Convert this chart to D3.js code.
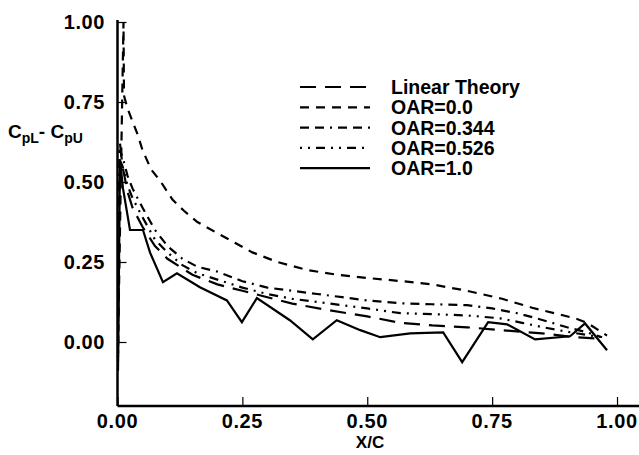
<!DOCTYPE html>
<html>
<head>
<meta charset="utf-8">
<script src="https://cdn.jsdelivr.net/npm/d3@7"></script>
<style>
  body { margin: 0; background: #fff; }
  text { font-family: "Liberation Sans", Arial, sans-serif; font-weight: bold; fill: #000; }
</style>
</head>
<body>
<div id="target"></div>
<script>
// series: [x/c, Cp difference]
const linearTheory = [[0.005,0.62],[0.01,0.55],[0.02,0.47],[0.03,0.42],[0.05,0.36],[0.075,0.3],[0.1,0.26],[0.15,0.21],[0.2,0.18],[0.25,0.16],[0.3,0.14],[0.35,0.12],[0.42,0.1],[0.5,0.08],[0.566,0.06],[0.63,0.052],[0.7,0.046],[0.77,0.037],[0.85,0.027],[0.91,0.016],[0.97,0.01]];
const oar00 = [[0.001,-0.02],[0.012,1.0],[0.013,0.77],[0.02,0.73],[0.03,0.69],[0.04,0.65],[0.05,0.6],[0.067,0.54],[0.087,0.5],[0.11,0.445],[0.133,0.41],[0.16,0.375],[0.2,0.34],[0.235,0.31],[0.27,0.28],[0.32,0.25],[0.38,0.225],[0.44,0.21],[0.5,0.2],[0.57,0.19],[0.63,0.18],[0.7,0.16],[0.77,0.135],[0.83,0.107],[0.88,0.088],[0.92,0.072],[0.94,0.06],[0.97,0.03],[0.98,0.02]];
const oar0344 = [[0.001,-0.05],[0.004,0.6],[0.01,0.58],[0.02,0.52],[0.03,0.48],[0.05,0.42],[0.075,0.35],[0.1,0.3],[0.13,0.26],[0.16,0.235],[0.2,0.22],[0.25,0.19],[0.3,0.17],[0.35,0.16],[0.4,0.15],[0.45,0.14],[0.5,0.13],[0.566,0.121],[0.63,0.118],[0.7,0.115],[0.75,0.105],[0.8,0.09],[0.832,0.077],[0.87,0.06],[0.9,0.046],[0.94,0.03],[0.97,0.015]];
const oar0526 = [[0.001,-0.06],[0.004,0.57],[0.01,0.55],[0.02,0.49],[0.03,0.45],[0.05,0.39],[0.075,0.32],[0.1,0.28],[0.13,0.24],[0.16,0.215],[0.2,0.195],[0.25,0.17],[0.3,0.15],[0.35,0.135],[0.4,0.125],[0.45,0.115],[0.5,0.105],[0.566,0.09],[0.63,0.087],[0.7,0.083],[0.766,0.074],[0.81,0.06],[0.852,0.046],[0.9,0.032],[0.94,0.022],[0.97,0.015]];
const oar10 = [[0.001,-0.09],[0.005,0.57],[0.011,0.48],[0.025,0.35],[0.051,0.35],[0.065,0.28],[0.091,0.187],[0.119,0.215],[0.165,0.171],[0.219,0.13],[0.249,0.062],[0.279,0.137],[0.345,0.068],[0.391,0.008],[0.439,0.068],[0.486,0.037],[0.526,0.015],[0.586,0.027],[0.652,0.03],[0.69,-0.063],[0.742,0.062],[0.78,0.055],[0.836,0.008],[0.906,0.018],[0.936,0.058],[0.98,-0.026]];

const seriesNames = ["Linear Theory", "OAR=0.0", "OAR=0.344", "OAR=0.526", "OAR=1.0"];
const xTicks = [0, 0.25, 0.5, 0.75, 1.0];
const yTicks = [0, 0.25, 0.5, 0.75, 1.0];

const width = 639, height = 455;
const dashes = ["16,9", "9,7", "9,6,9,6,2,6", "2,6,2,6,9,6", null];
const allSeries = [linearTheory, oar00, oar0344, oar0526, oar10];

let svg = d3.select("#target").append("svg")
  .attr("width", width)
  .attr("height", height);

let x = d3.scaleLinear().domain([0, 1.044]).range([117.5, 639]);
let y = d3.scaleLinear().domain([-0.2, 1.0]).range([406, 22]);

// axes, ticks drawn inside the frame
let xAxis = d3.axisTop(x).tickValues(xTicks).tickSize(9).tickFormat("");
let yAxis = d3.axisRight(y).tickValues(yTicks).tickSize(9).tickFormat("");

svg.append("g")
  .attr("transform", `translate(0,${y(-0.2)})`)
  .call(xAxis)
  .call(g => g.select(".domain").attr("stroke-width", 2.5).attr("d", `M${x(0)},0H${width}`))
  .call(g => g.selectAll(".tick line").attr("stroke-width", 1.2));
svg.append("g")
  .attr("transform", `translate(${x(0)},0)`)
  .call(yAxis)
  .call(g => g.select(".domain").attr("stroke-width", 2.5).attr("d", `M0,20V${y(-0.2)}`))
  .call(g => g.selectAll(".tick line").attr("stroke-width", 1.2));

svg.selectAll(".xlab")
  .data(xTicks)
  .enter().append("text")
  .attr("class", "xlab")
  .attr("x", d => x(d))
  .attr("y", 428)
  .attr("text-anchor", "middle")
  .style("font-size", "20px")
  .style("letter-spacing", "0.6px")
  .text(d => d.toFixed(2));
svg.selectAll(".ylab")
  .data(yTicks)
  .enter().append("text")
  .attr("class", "ylab")
  .attr("x", 105)
  .attr("y", d => y(d) + 7)
  .attr("text-anchor", "end")
  .style("font-size", "20px")
  .style("letter-spacing", "0.6px")
  .text(d => d.toFixed(2));

svg.append("text")
  .attr("x", 370)
  .attr("y", 448)
  .attr("text-anchor", "middle")
  .style("font-size", "17px")
  .text("X/C");

let yt = svg.append("text")
  .attr("x", 8)
  .attr("y", 138)
  .style("font-size", "19px");
yt.append("tspan").text("C");
yt.append("tspan").attr("dy", 5).style("font-size", "14px").text("pL");
yt.append("tspan").attr("dy", -5).text("- C");
yt.append("tspan").attr("dy", 5).style("font-size", "14px").text("pU");

let line = d3.line()
  .x(d => x(d[0]))
  .y(d => y(d[1]));

svg.selectAll(".curve")
  .data(allSeries)
  .enter().append("path")
  .attr("class", "curve")
  .attr("d", d => line(d))
  .attr("fill", "none")
  .attr("stroke", "#000")
  .attr("stroke-width", 2.2)
  .attr("stroke-dasharray", (d, i) => dashes[i]);

// legend
let legend = svg.selectAll(".legend")
  .data(seriesNames)
  .enter().append("g")
  .attr("class", "legend")
  .attr("transform", (d, i) => `translate(0,${87 + i * 20.3})`);
legend.append("line")
  .attr("x1", 300)
  .attr("x2", 370)
  .attr("stroke", "#000")
  .attr("stroke-width", 2.2)
  .attr("stroke-dasharray", (d, i) => dashes[i]);
legend.append("text")
  .attr("x", 391)
  .attr("y", 7)
  .style("font-size", "19.5px")
  .text(d => d);
</script>
</body>
</html>
